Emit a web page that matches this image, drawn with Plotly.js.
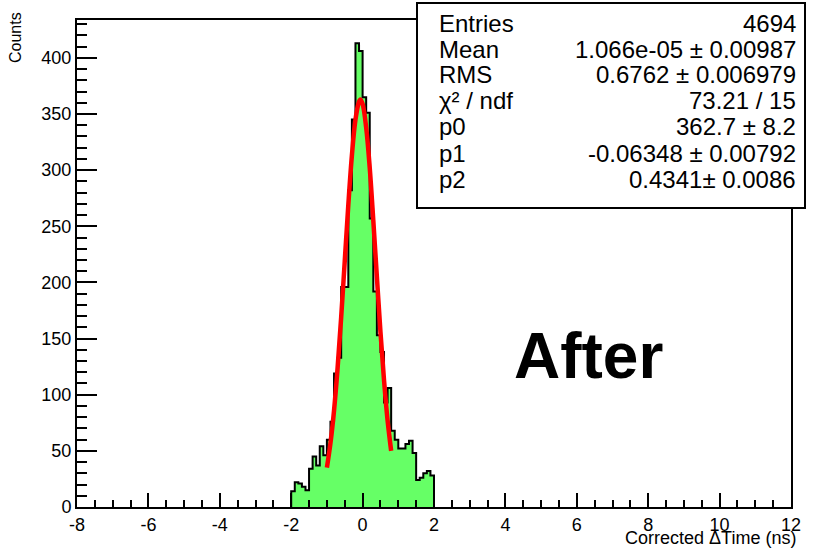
<!DOCTYPE html>
<html>
<head>
<meta charset="utf-8">
<script src="https://cdn.plot.ly/plotly-3.0.1.min.js"></script>
<style>
  html, body { margin: 0; padding: 0; background: #ffffff; }
  #chart { width: 819px; height: 550px; }
</style>
</head>
<body>
<div id="chart"></div>
<script>
// ---- data ----
const binCenters = [-1.95,-1.85,-1.75,-1.65,-1.55,-1.45,-1.35,-1.25,-1.15,-1.05,
                    -0.95,-0.85,-0.75,-0.65,-0.55,-0.45,-0.35,-0.25,-0.15,-0.05,
                     0.05, 0.15, 0.25, 0.35, 0.45, 0.55, 0.65, 0.75, 0.85, 0.95,
                     1.05, 1.15, 1.25, 1.35, 1.45, 1.55, 1.65, 1.75, 1.85, 1.95];
const counts = [14,22,21,18,15,34,45,37,54,46,
                60,76,119,133,196,196,282,345,413,406,
                365,351,257,192,153,138,93,106,68,60,
                52,52,56,59,48,24,26,30,32,28];
const binWidth = 0.1;

// Gaussian fit curve as drawn
const fitX = [-1.0,-0.9,-0.8,-0.7,-0.6,-0.5,-0.4,-0.3,-0.2,-0.1,-0.063,0.0,0.1,0.2,0.3,0.4,0.5,0.6,0.7,0.8];
const fitY = [35,57,86,124,169,219,269,313,345,361,363,359,338,302,255,205,156,113,77,50];

const xTickVals = [-8,-6,-4,-2,0,2,4,6,8,10,12];
const xTickText = ["-8","-6","-4","-2","0","2","4","6","8","10","12"];
const yTickVals = [0,50,100,150,200,250,300,350,400];
const yTickText = ["0","50","100","150","200","250","300","350","400"];

const statLabels = ["Entries", "Mean", "RMS", "\u03c7\u00b2 / ndf", "p0", "p1", "p2"];
const statValues = ["4694", "1.066e-05 \u00b1 0.00987", "0.6762 \u00b1 0.006979", "73.21 / 15",
                    "362.7 \u00b1 8.2", "-0.06348 \u00b1 0.00792", "0.4341\u00b1 0.0086"];

const xTitle = "Corrected \u0394Time (ns)";
const yTitle = "Counts";
const bigLabel = "After";

// ---- build histogram outline (step) from bins ----
const stepX = [], stepY = [];
stepX.push(binCenters[0] - binWidth / 2); stepY.push(0);
for (let i = 0; i < binCenters.length; i++) {
  const lo = binCenters[i] - binWidth / 2, hi = binCenters[i] + binWidth / 2;
  stepX.push(lo); stepY.push(counts[i]);
  stepX.push(hi); stepY.push(counts[i]);
}
stepX.push(binCenters[binCenters.length - 1] + binWidth / 2); stepY.push(0);

const FONT = "Liberation Sans, Arial, Helvetica, sans-serif";

const traces = [
  {
    type: "scatter", mode: "lines", x: stepX, y: stepY,
    fill: "tozeroy", fillcolor: "rgb(102,255,102)",
    line: { color: "#000000", width: 2 }, hoverinfo: "skip"
  },
  {
    type: "scatter", mode: "lines", x: fitX, y: fitY,
    line: { color: "rgb(255,0,0)", width: 4.5, shape: "spline" }, hoverinfo: "skip"
  }
];

// plot frame: left 77, right 791, top 20, bottom 507
const L = 77, R = 791, T = 20, B = 507, W = 819, H = 550;
const px = v => (v - L) / (R - L);
const py = v => (B - v) / (B - T);

const annotations = [];
const rowYs = [23, 49, 75, 101, 127, 153, 179];
for (let i = 0; i < statLabels.length; i++) {
  const yc = rowYs[i];
  annotations.push({
    xref: "paper", yref: "paper", x: px(437), y: py(yc),
    xanchor: "left", yanchor: "middle", showarrow: false,
    text: statLabels[i], font: { family: FONT, size: 24, color: "#000" }
  });
  annotations.push({
    xref: "paper", yref: "paper", x: px(798), y: py(yc),
    xanchor: "right", yanchor: "middle", showarrow: false,
    text: statValues[i], font: { family: FONT, size: 24, color: "#000" }
  });
}
annotations.push({
  xref: "paper", yref: "paper", x: px(798), y: py(538),
  xanchor: "right", yanchor: "middle", showarrow: false,
  text: xTitle, font: { family: FONT, size: 18, color: "#000" }
});
annotations.push({
  xref: "paper", yref: "paper", x: px(15), y: py(38),
  xanchor: "center", yanchor: "middle", showarrow: false, textangle: -90,
  text: yTitle, font: { family: FONT, size: 16, color: "#000" }
});
annotations.push({
  xref: "paper", yref: "paper", x: px(588), y: py(356),
  xanchor: "center", yanchor: "middle", showarrow: false,
  text: "<b>" + bigLabel + "</b>", font: { family: FONT, size: 64, color: "#000" }
});

const layout = {
  width: W, height: H,
  margin: { l: L, r: W - R, t: T, b: H - B, pad: 0 },
  paper_bgcolor: "#ffffff", plot_bgcolor: "#ffffff",
  showlegend: false,
  font: { family: FONT, size: 18, color: "#000" },
  xaxis: {
    range: [-8, 12], autorange: false,
    tickmode: "array", tickvals: xTickVals, ticktext: xTickText,
    ticks: "inside", ticklen: 14, tickwidth: 2, tickcolor: "#000",
    minor: { dtick: 0.5, tick0: 0, ticks: "inside", ticklen: 7, tickwidth: 2, tickcolor: "#000", showgrid: false },
    showline: true, linecolor: "#000", linewidth: 2, mirror: true,
    showgrid: false, zeroline: false,
    tickfont: { family: FONT, size: 18, color: "#000" }
  },
  yaxis: {
    range: [0, 433.7], autorange: false,
    tickmode: "array", tickvals: yTickVals, ticktext: yTickText,
    ticks: "inside", ticklen: 20, tickwidth: 2, tickcolor: "#000",
    minor: { dtick: 10, tick0: 0, ticks: "inside", ticklen: 10, tickwidth: 2, tickcolor: "#000", showgrid: false },
    showline: true, linecolor: "#000", linewidth: 2, mirror: true,
    showgrid: false, zeroline: false,
    tickfont: { family: FONT, size: 18, color: "#000" }
  },
  shapes: [{
    type: "rect", xref: "paper", yref: "paper",
    x0: px(417), x1: px(805), y0: py(208), y1: py(3),
    fillcolor: "#ffffff", line: { color: "#000", width: 2 }, layer: "above"
  }],
  annotations: annotations
};

Plotly.newPlot("chart", traces, layout, { staticPlot: true, displayModeBar: false });
</script>
</body>
</html>
